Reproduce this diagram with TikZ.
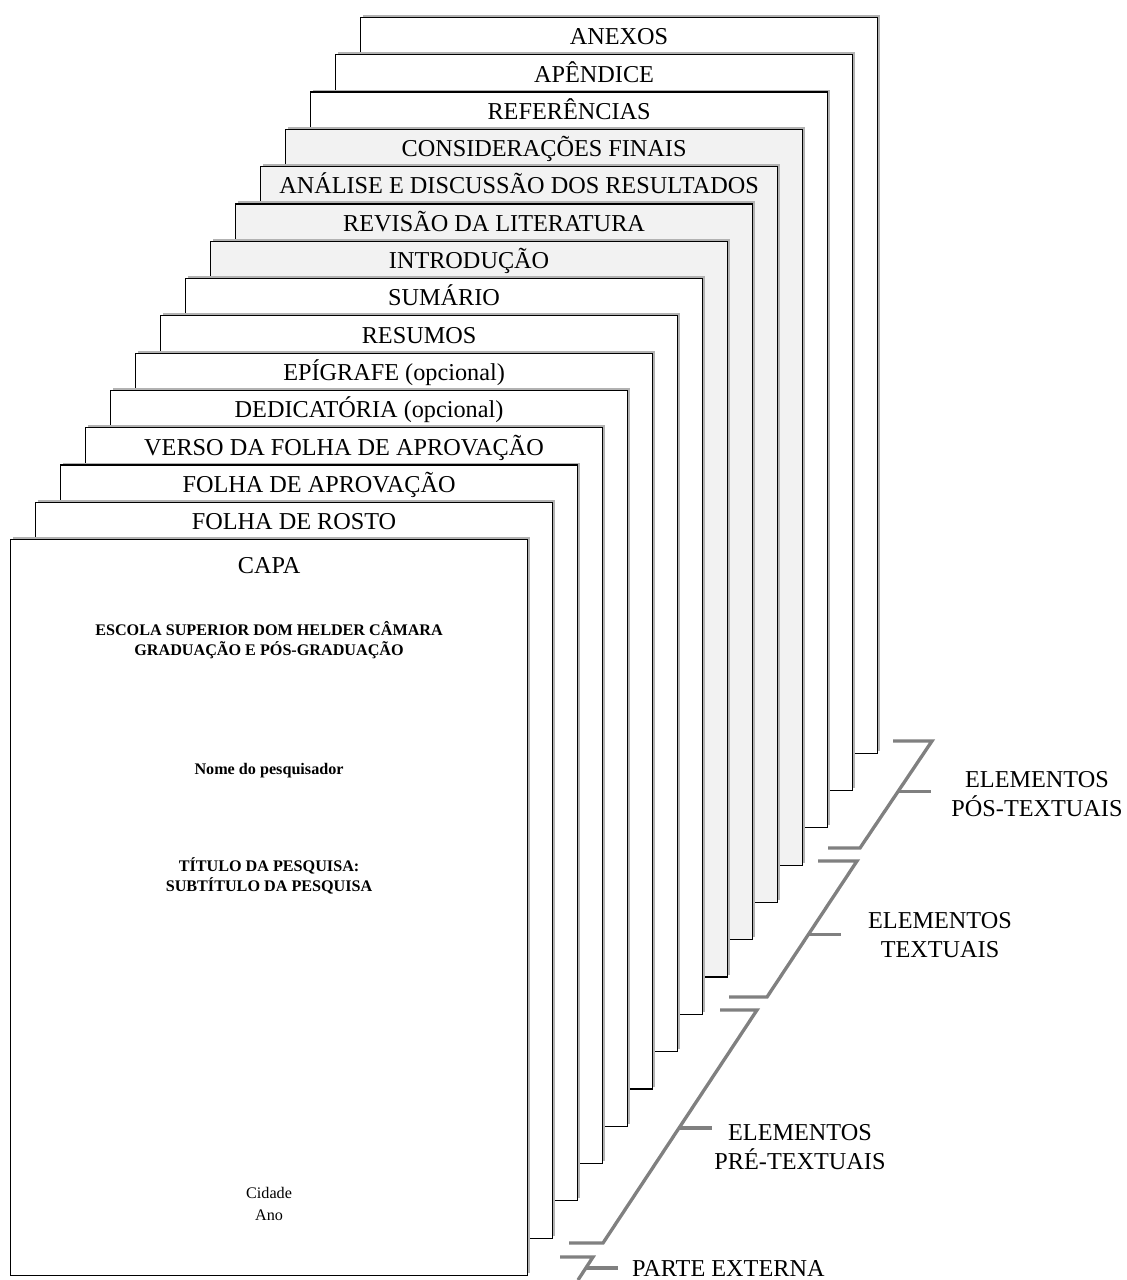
\documentclass[tikz,border=0pt]{standalone}
\usepackage{fontspec}
\setmainfont{Liberation Serif}
\usetikzlibrary{positioning,calc,shadows}
\definecolor{pagegray}{HTML}{F2F2F2}
\definecolor{bracegray}{HTML}{808080}

\begin{document}
\begin{tikzpicture}[
    x=0.02cm, y=-0.02cm,
    page/.style={draw, line width=0.7pt, anchor=north west, inner sep=0pt,
        minimum width=10.34cm, minimum height=14.72cm,
        drop shadow={shadow xshift=1.4pt, shadow yshift=1.4pt, fill=gray!60, opacity=1}},
    pagetitle/.style={anchor=base, font=\fontsize{13.8}{16.8}\selectfont},
    capatext/.style={align=center, font=\fontsize{9.2}{11.4}\selectfont\bfseries},
    part/.style={align=center, font=\fontsize{13.8}{16.8}\selectfont},
    brace/.style={draw=bracegray, line width=1.9pt}
]
\useasboundingbox (0,0) rectangle (1126,1280);

\foreach \i/\txt/\col in {14/ANEXOS/white, 13/APÊNDICE/white, 12/REFERÊNCIAS/white,
    11/CONSIDERAÇÕES FINAIS/pagegray, 10/ANÁLISE E DISCUSSÃO DOS RESULTADOS/pagegray,
    9/REVISÃO DA LITERATURA/pagegray, 8/INTRODUÇÃO/pagegray, 7/SUMÁRIO/white,
    6/RESUMOS/white, 5/EPÍGRAFE (opcional)/white, 4/DEDICATÓRIA (opcional)/white,
    3/VERSO DA FOLHA DE APROVAÇÃO/white, 2/FOLHA DE APROVAÇÃO/white, 1/FOLHA DE ROSTO/white}
{
    \node[page, fill=\col] (p\i) at ({10+25*\i},{539-37.3*\i}) {};
    \node[pagetitle] (t\i) at ($(p\i.north)+(0,28)$) {\txt};
}

\node[page, fill=white] (p0) at (10,539) {};
\node[pagetitle] (t0) at ($(p0.north)+(0,34)$) {CAPA};
\node[capatext] (escola) at ($(p0.north)+(0,101)$) {ESCOLA SUPERIOR DOM HELDER CÂMARA\\GRADUAÇÃO E PÓS-GRADUAÇÃO};
\node[capatext] (nome) at ($(p0.north)+(0,232)$) {Nome do pesquisador};
\node[capatext] (titulo) at ($(p0.north)+(0,337)$) {TÍTULO DA PESQUISA:\\SUBTÍTULO DA PESQUISA};
\node[capatext, font=\fontsize{9.2}{12.5}\selectfont] (cidade) at ($(p0.north)+(0,665)$) {Cidade\\Ano};

\coordinate (posT) at (932,741);
\coordinate (posB) at (860,848);
\coordinate (txtT) at (857,861);
\coordinate (txtB) at (767,997);
\coordinate (preT) at (757,1010);
\coordinate (preB) at (603,1243);
\coordinate (extT) at (593,1257);
\coordinate (extB) at (578,1280);

\draw[brace] ($(posT)+(-39,0)$) -- (posT) -- (posB) -- ++(-32,0);
\draw[brace] ($(posT)!0.47!(posB)$) -- ++(33,0);
\draw[brace] ($(txtT)+(-39,0)$) -- (txtT) -- (txtB) -- ++(-38,0);
\draw[brace] ($(txtT)!0.54!(txtB)$) -- ++(33,0);
\draw[brace] ($(preT)+(-37,0)$) -- (preT) -- (preB) -- ++(-34,0);
\draw[brace] ($(preT)!0.506!(preB)$) -- ++(33,0);
\draw[brace] ($(extT)+(-33,0)$) -- (extT) -- (extB);
\draw[brace] ($(extT)!0.48!(extB)$) -- ++(32,0);

\node[part] (pos) at (1037,794) {ELEMENTOS\\PÓS-TEXTUAIS};
\node[part] (textuais) at (940,935) {ELEMENTOS\\TEXTUAIS};
\node[part] (pre) at (800,1147) {ELEMENTOS\\PRÉ-TEXTUAIS};
\node[part, anchor=west] (externa) at (626,1268) {PARTE EXTERNA};
\end{tikzpicture}
\end{document}
